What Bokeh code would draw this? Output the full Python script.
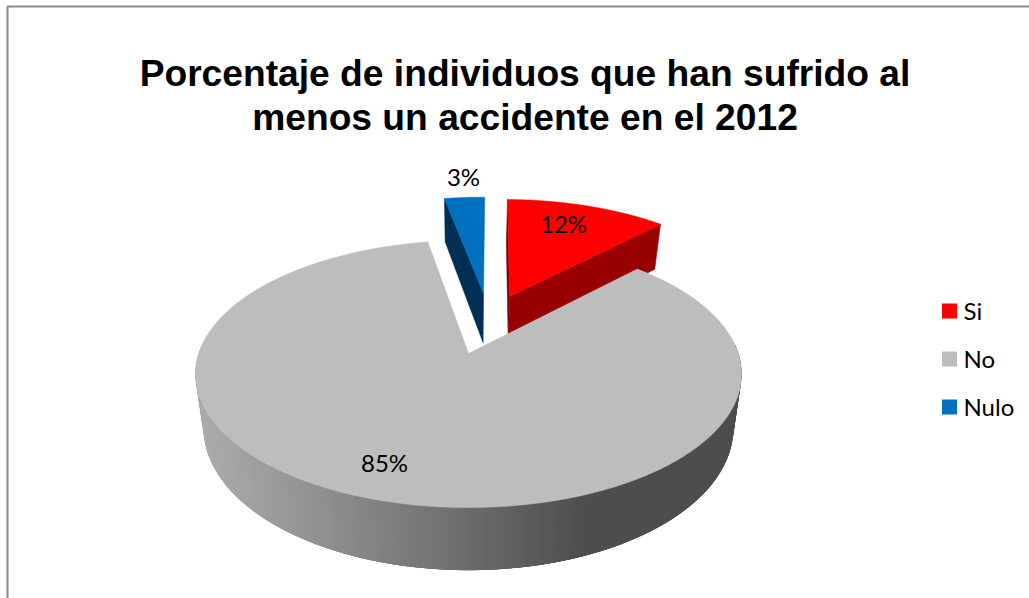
import numpy as np
from bokeh.core.properties import value
from bokeh.embed import file_html
from bokeh.models import Range1d
from bokeh.plotting import figure
from bokeh.resources import INLINE

title_lines = ["Porcentaje de individuos que han sufrido al", "menos un accidente en el 2012"]
categories = ["Si", "No", "Nulo"]
shares = [12, 85, 3]
top_colors = ["#ff0000", "#bdbdbd", "#0070c0"]

# Projection of the tilted pie onto the page, in pixels
CX, CY = 468.0, 353.0
A, B, K = 269.8, 130.4, 0.1536
DEPTH, SHRINK = 53.0, 0.97
RADIUS = 0.974
START = 0.8

# Each slice's pull-out from the pie centre, on the pie's own plane
pull = {"Si": (0.163, 0.4686), "No": (0.0, 0.0), "Nulo": (0.06, 0.495)}
radius = {"Si": RADIUS, "No": 1.0, "Nulo": RADIUS}


def project(X, Y, lower=False):
    X, Y = np.asarray(X, float), np.asarray(Y, float)
    w = 1 + K * Y
    sx, sy = A * X / w, -B * Y / w
    if lower:
        sx = sx * SHRINK
        sy = sy + DEPTH / w
    return CX + sx, CY + sy


edges = np.radians(START + np.cumsum([0] + shares) * 360.0 / sum(shares))
span = dict(zip(categories, zip(edges[:-1], edges[1:])))


def slice_outline(name):
    a0, a1 = span[name]
    t = np.linspace(a0, a1, 160)
    dx, dy = pull[name]
    r = radius[name]
    xs, ys = project(np.r_[dx, dx + r * np.sin(t)], np.r_[dy, dy + r * np.cos(t)])
    return xs.tolist(), ys.tolist()


def radial_wall(name, angle):
    dx, dy = pull[name]
    r = radius[name]
    X = np.array([dx, dx + r * np.sin(angle)])
    Y = np.array([dy, dy + r * np.cos(angle)])
    x0, y0 = project(X, Y)
    x1, y1 = project(X, Y, lower=True)
    return np.r_[x0, x1[::-1]].tolist(), np.r_[y0, y1[::-1]].tolist()


p = figure(width=1029, height=598, x_range=Range1d(0, 1029), y_range=Range1d(598, 0),
           output_backend="svg", toolbar_location=None, min_border=0,
           x_axis_type=None, y_axis_type=None, background_fill_color="white")
p.grid.visible = False
p.outline_line_color = None

# Chart-area frame, open on the right and at the bottom
p.line([7, 7, 1029], [598, 6, 6], line_color="#8a8a8a", line_width=2)

# Inner walls of the two pulled-out slices
wx, wy = radial_wall("Nulo", span["Nulo"][0])
p.patch(wx, wy, fill_color="#002f55", line_color="#002f55", line_width=0.5)
wx, wy = radial_wall("Si", span["Si"][0])
p.patch(wx, wy, fill_color="#7a0000", line_color="#7a0000", line_width=0.5)
wx, wy = radial_wall("Si", span["Si"][1])
p.patch(wx, wy, fill_color="#990000", line_color="#990000", line_width=0.5)

for name in ("Nulo", "Si"):
    c = top_colors[categories.index(name)]
    sx, sy = slice_outline(name)
    p.patch(sx, sy, fill_color=c, line_color=c, line_width=0.5)

# Curved front wall of the large slice, shaded by page position. Strips run
# from the right end to the left and each overlaps the next, so no seams show.
t = np.radians(np.linspace(86, 274, 189))
tx, ty = project(np.sin(t), np.cos(t))
bx, by = project(np.sin(t), np.cos(t), lower=True)
quad_x, quad_y, quad_c = [], [], []
for i in range(len(t) - 1):
    j = max(i - 3, 0)
    quad_x.append([tx[j], tx[i + 1], bx[i + 1], bx[j]])
    quad_y.append([ty[j], ty[i + 1], by[i + 1], by[j]])
    level = int(round(np.interp(bx[i + 1], [200, 565], [172, 77])))
    quad_c.append(f"#{level:02x}{level:02x}{level:02x}")
p.patches(quad_x, quad_y, fill_color=quad_c, line_color=None)

sx, sy = slice_outline("No")
p.patch(sx, sy, fill_color=top_colors[1], line_color=top_colors[1], line_width=0.5)

# Title
p.text([524.5, 524.5], [72, 116], text=title_lines, text_align="center", text_baseline="middle",
       text_font=value("Liberation Sans"), text_font_style="bold", text_font_size="37.2px",
       text_color="black")

# Percentage labels
p.text([563, 384, 463], [223, 462, 176], text=[f"{s}%" for s in shares], text_align="center",
       text_baseline="middle", text_font=value("Lato"), text_font_size="24px", text_color="black")

# Legend
legend_y = [310.5, 358.5, 406.5]
p.rect([949] * 3, legend_y, width=15, height=15, fill_color=top_colors, line_color=None)
p.text([963] * 3, [y - 1 for y in legend_y], text=categories, text_align="left", text_baseline="middle",
       text_font=value("Lato"), text_font_size="24px", text_color="black")

open("out.html", "w").write(file_html(p, INLINE))
